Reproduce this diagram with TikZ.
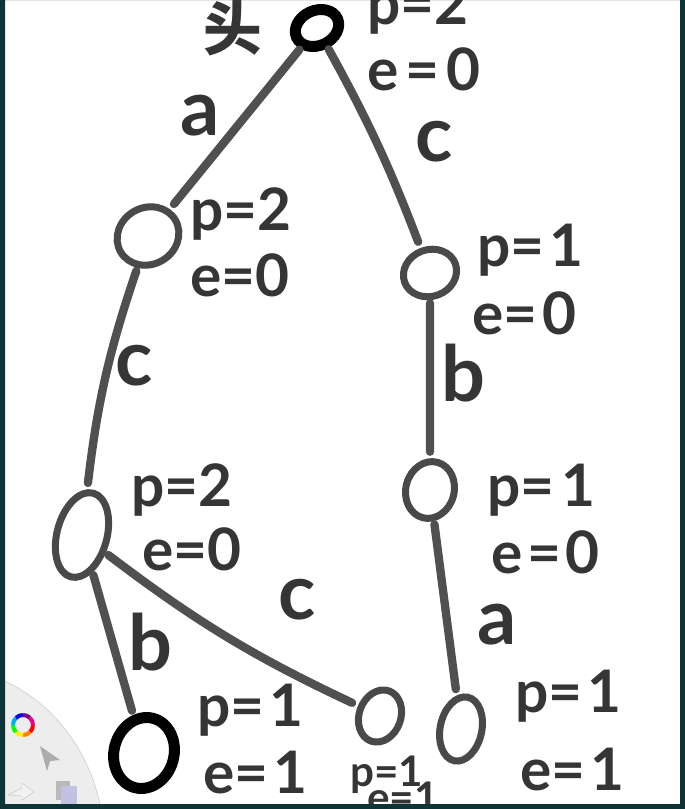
\documentclass[tikz,border=0pt]{standalone}
\usepackage{fontspec}
\setmainfont{Lato}
\newfontfamily\cjk{Noto Sans CJK SC}
\usetikzlibrary{shapes.geometric}
\definecolor{frame}{HTML}{0E3437}
\definecolor{ink}{HTML}{353535}
\definecolor{edgeink}{HTML}{505050}
\definecolor{panel}{HTML}{EDEDED}
\tikzset{
  trienode/.style={ellipse, draw=ink!90, line width=0.21cm, inner sep=0pt, outer sep=0pt},
  headnode/.style={trienode, draw=black, line width=0.33cm},
  link/.style={draw=edgeink, line width=0.25cm, line cap=round, shorten <=0.2cm, shorten >=0.3cm},
  kv/.style={text=ink, font=\bfseries\fontsize{50}{50}\selectfont, inner sep=0pt, anchor=base west},
  kvsmall/.style={kv, font=\bfseries\fontsize{36}{36}\selectfont},
  elabel/.style={text=ink, font=\bfseries\fontsize{66}{66}\selectfont, inner sep=0pt}
}
\begin{document}
\begin{tikzpicture}[x=0.03cm, y=-0.03cm]
\useasboundingbox (0,0) rectangle (685,809);
\fill[white] (0,0) rectangle (685,809);

% tool panel (bottom left)
\fill[panel] (5,681) .. controls (55,705) and (88,750) .. (100,804) -- (5,804) -- cycle;
\draw[gray!35, line width=0.6pt] (5,681) .. controls (55,705) and (88,750) .. (100,804);
\foreach \c [count=\i] in {red,orange,yellow,green,cyan,blue,violet,magenta}
  \draw[\c, line width=0.12cm] (23,725) ++(\i*45-45:10) arc[start angle=\i*45-45, end angle=\i*45, radius=10];
\fill[gray!65] (40,746) -- (60,760) -- (50,761) -- (47,771) -- cycle;
\draw[gray!45, fill=gray!10] (8,795) -- (22,788) -- (22,783) -- (34,792) -- (22,800) -- (22,796) -- cycle;
\fill[gray!55] (56,781) rectangle (70,800);
\fill[gray!60!blue!35] (61,786) rectangle (77,806);

% trie nodes
\node[headnode, minimum width=1.35cm, minimum height=1.05cm, rotate=25] (root) at (317,28) {};
\node[trienode, minimum width=1.9cm, minimum height=1.7cm, rotate=30] (na) at (148,236) {};
\node[trienode, minimum width=1.62cm, minimum height=1.4cm, rotate=20] (nc) at (430,273) {};
\node[trienode, minimum width=1.5cm, minimum height=2.6cm, rotate=-15] (nac) at (82,535) {};
\node[trienode, minimum width=1.45cm, minimum height=1.72cm, rotate=-15] (ncb) at (430,490) {};
\node[headnode, minimum width=1.8cm, minimum height=2.15cm, rotate=-15] (nacb) at (144,753) {};
\node[trienode, minimum width=1.25cm, minimum height=1.6cm, rotate=-20] (nacc) at (380,716) {};
\node[trienode, minimum width=1.25cm, minimum height=1.95cm, rotate=-12] (ncba) at (461,729) {};

% connectors
\draw[link] (root) -- (na);
\draw[link] (root) to[bend left=4] (nc);
\draw[link] (na) to[bend right=6] (nac);
\draw[link] (nc) -- (ncb);
\draw[link] (nac) -- (nacb);
\draw[link] (nac) to[bend right=6] (nacc);
\draw[link] (ncb) -- (ncba);

% edge letters
\node[elabel] (la) at (200,116) {a};
\node[elabel] (lc) at (434,142) {c};
\node[elabel] (lac) at (134,366) {c};
\node[elabel] (lcb) at (463,373) {b};
\node[elabel] (lacb) at (150,642) {b};
\node[elabel] (lacc) at (297,600) {c};
\node[elabel] (lcba) at (497,625) {a};

% node labels
\node[text=ink, font=\cjk\bfseries\fontsize{50}{50}\selectfont, inner sep=0pt] (head) at (233,28) {头};
\node[kv] (rootp) at (367,24) {p=2};
\node[kv] (roote) at (367,90) {e\hspace{6pt}=\hspace{6pt}0};
\node[kv] (nap) at (190,230) {p=2};
\node[kv] (nae) at (190,296) {e=0};
\node[kv] (ncp) at (477,266) {p=\hspace{4pt}1};
\node[kv] (nce) at (472,334) {e=\hspace{4pt}0};
\node[kv] (nacp) at (131,506) {p=2};
\node[kv] (nace) at (142,570) {e=0};
\node[kv] (ncbp) at (487,506) {p=\hspace{6pt}1};
\node[kv] (ncbe) at (491,573) {e\hspace{4pt}=\hspace{4pt}0};
\node[kv] (nacbp) at (197,726) {p=\hspace{4pt}1};
\node[kv] (nacbe) at (203,793) {e=\hspace{4pt}1};
\node[kvsmall] (naccp) at (350,786) {p=1};
\node[kvsmall] (nacce) at (367,812) {e=1};
\node[kv] (ncbap) at (515,712) {p=\hspace{4pt}1};
\node[kv] (ncbae) at (520,790) {e=\hspace{4pt}1};

% dark frame
\fill[frame, even odd rule] (0,0) rectangle (685,809) (5,-20) rectangle (680,804);
\end{tikzpicture}
\end{document}
